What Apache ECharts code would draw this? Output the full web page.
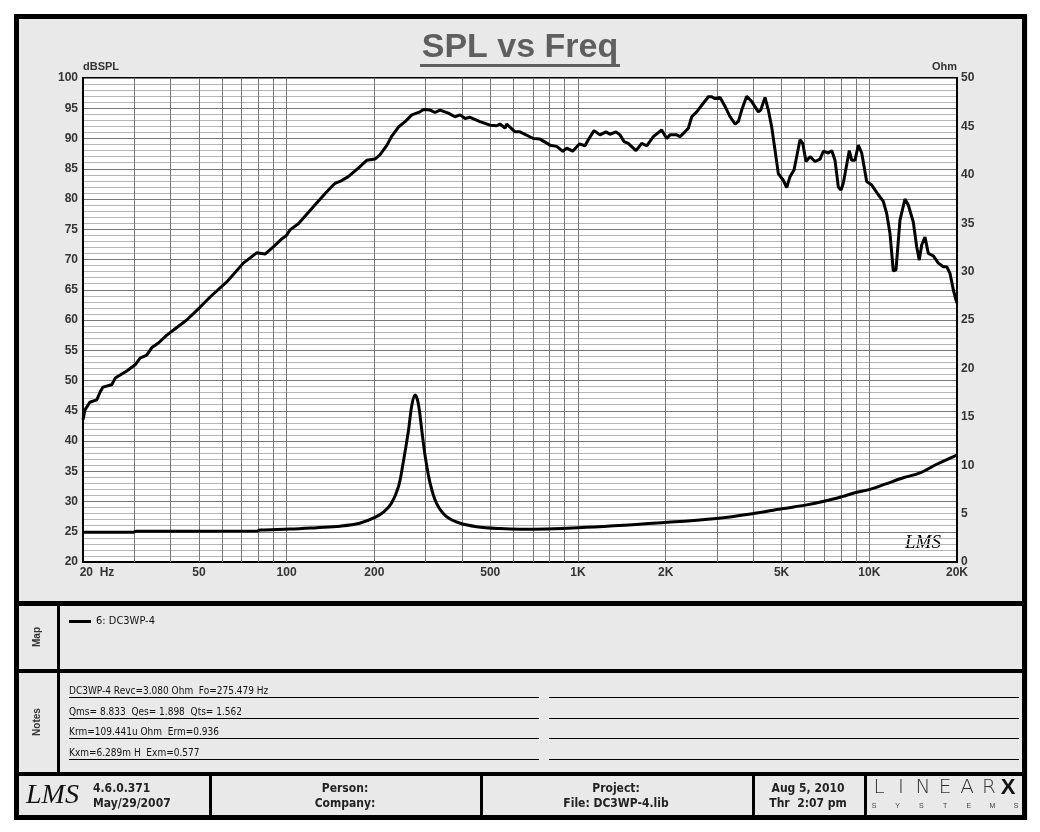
<!DOCTYPE html>
<html>
<head>
<meta charset="utf-8">
<title>SPL vs Freq</title>
<script src="https://cdn.jsdelivr.net/npm/echarts@6/dist/echarts.min.js"></script>
<style>
  html, body { margin: 0; padding: 0; background: #fff; }
  #main { width: 1040px; height: 832px; }
</style>
</head>
<body>
<div id="main"></div>
<script>
// SPL curve (Hz / dB)
var splFreq = [20, 20.3, 21.1, 22.3, 22.9, 23.4, 25.1, 25.8, 27.9, 28.5, 30.2, 31.4, 33.1, 34.4, 36.3, 38.8, 40.8,
  45.4, 50.4, 54.6, 62.3, 71, 78.9, 84.3, 90, 96.2, 100, 102.7, 109.7, 123.5, 137.3, 146.6, 152.5, 162.8,
  176.2, 188.3, 201, 209, 221, 229, 242, 255, 269, 287, 295, 311, 323, 336, 359, 378, 394, 410, 426, 461,
  499, 526, 540, 562, 569, 608, 632, 703, 741, 802, 845, 887, 915, 959, 1011, 1057, 1085, 1135, 1190,
  1248, 1288, 1351, 1394, 1439, 1488, 1582, 1655, 1722, 1814, 1938, 2017, 2070, 2182, 2240, 2330, 2392,
  2458, 2556, 2660, 2802, 2878, 2954, 3074, 3198, 3326, 3460, 3552, 3648, 3794, 3948, 4160, 4240, 4386,
  4502, 4624, 4746, 4872, 5068, 5206, 5344, 5516, 5784, 5908, 6064, 6260, 6512, 6776, 6952, 7232, 7430,
  7626, 7828, 7996, 8142, 8538, 8702, 8932, 9168, 9418, 9796, 10192, 10740, 11170, 11474, 11776, 12088,
  12348, 12744, 13258, 13608, 14158, 14544, 14846, 15130, 15532, 15944, 16586, 17254, 17948, 18438,
  18924, 19424, 19844, 20000];
var splDb = [43.5, 45.1, 46.4, 46.8, 48.1, 48.9, 49.3, 50.4, 51.4, 51.7, 52.6, 53.7, 54.2, 55.4, 56.2, 57.5, 58.3,
  60.0, 62.1, 63.8, 66.3, 69.4, 71.1, 70.9, 72.1, 73.4, 74.0, 74.9, 75.9, 78.7, 81.2, 82.6, 82.9, 83.7,
  85.1, 86.4, 86.6, 87.3, 88.9, 90.3, 91.9, 92.8, 93.9, 94.4, 94.8, 94.7, 94.3, 94.7, 94.2, 93.6, 93.9, 93.3, 93.5, 92.8,
  92.2, 92.1, 92.4, 91.7, 92.4, 91.1, 91.1, 90.0, 89.9, 88.9, 88.7, 87.9, 88.4, 87.9, 89.1, 88.8, 89.8, 91.3, 90.6,
  91.1, 90.7, 91.1, 90.6, 89.5, 89.2, 88.0, 89.2, 88.8, 90.3, 91.4, 90.0, 90.6, 90.6, 90.3, 91.1, 91.7,
  93.6, 94.4, 95.5, 96.9, 96.9, 96.6, 96.8, 95.3, 93.6, 92.4, 92.8, 94.7, 97.0, 96.1, 94.4, 94.7, 96.8,
  94.7, 91.9, 88.1, 84.2, 83.1, 81.9, 83.7, 84.8, 89.8, 89.2, 86.2, 87.0, 86.2, 86.6, 87.9, 87.6, 88.0,
  86.4, 82.0, 81.5, 82.6, 88.0, 86.4, 86.4, 88.9, 87.6, 82.9, 82.3, 80.7, 79.6, 77.6, 74.3, 68.1,
  68.3, 76.5, 80.0, 79.0, 76.2, 72.1, 69.9, 72.4, 73.7, 71.0, 70.6, 69.4, 68.8, 68.8,
  67.7, 65.0, 63.3, 62.8];

// impedance curve (Hz / Ohm)
var zFreq = [20, 29.5, 30.5, 79, 81, 102.7, 126.8, 152.5, 178, 201, 216, 229, 242, 251, 262, 269, 276, 283,
  291, 299, 311, 327, 354, 394, 449, 540, 632, 1003, 2017, 2994, 3996, 5004, 6098, 7048, 8042, 9054,
  10058, 11474, 13086, 14930, 17036, 20000];
var zOhm = [3.07, 3.07, 3.17, 3.2, 3.3, 3.4, 3.55, 3.7, 4.0, 4.6, 5.2, 6.06, 7.78, 10.2, 13.6, 16.2, 17.25, 16.4,
  13.6, 10.9, 8.1, 6.06, 4.68, 4.0, 3.65, 3.45, 3.38, 3.55, 4.1, 4.5, 5.0, 5.5, 5.9, 6.3, 6.75, 7.2,
  7.5, 8.1, 8.7, 9.2, 10.1, 11.05];

var gridFreqs = [30, 40, 50, 60, 70, 80, 90, 100, 200, 300, 400, 500, 600, 700, 800, 900,
  1000, 2000, 3000, 4000, 5000, 6000, 7000, 8000, 9000, 10000];
var freqTicks = [20, 50, 100, 200, 500, 1000, 2000, 5000, 10000, 20000];
var freqTickLabels = ['20  Hz', '50', '100', '200', '500', '1K', '2K', '5K', '10K', '20K'];

var driverName = '6: DC3WP-4';
var noteLines = [
  'DC3WP-4 Revc=3.080 Ohm  Fo=275.479 Hz',
  'Qms= 8.833  Qes= 1.898  Qts= 1.562',
  'Krm=109.441u Ohm  Erm=0.936',
  'Kxm=6.289m H  Exm=0.577'
];

var sans = "'Liberation Sans', Arial, sans-serif";
var narrow = "'Liberation Sans Narrow', 'DejaVu Sans Condensed', 'Liberation Sans', sans-serif";

function pairs(xs, ys) {
  return xs.map(function (x, i) { return [x, ys[i]]; });
}

// frame, panels and footer
var g = [];
function box(x, y, w, h, fill) {
  g.push({ type: 'rect', shape: { x: x, y: y, width: w, height: h }, style: { fill: fill }, silent: true });
}
function txt(x, y, s, o) {
  o = o || {};
  g.push({
    type: 'text', x: x, y: y, rotation: o.rot || 0, silent: true,
    style: {
      text: s, align: o.align || 'left', verticalAlign: o.va || 'middle',
      font: o.font || ('bold 12px ' + narrow), fill: o.color || '#222'
    }
  });
}
// white outside of the frame
box(0, 0, 1040, 14, '#fff');
box(0, 0, 14, 832, '#fff');
box(1028, 0, 12, 832, '#fff');
box(0, 820, 1040, 12, '#fff');
g.push({ type: 'rect', shape: { x: 16.5, y: 16.5, width: 1008, height: 801 }, style: { fill: null, stroke: '#000', lineWidth: 5 }, silent: true });
box(17, 601, 1008, 5, '#000');
box(17, 669, 1008, 4, '#000');
box(17, 772, 1008, 4, '#000');
box(57, 606, 3, 166, '#000');
[209, 480, 752, 864].forEach(function (x) { box(x, 776, 3, 40, '#000'); });

// title underline
box(420, 64, 200, 3, '#5f5f5f');

txt(37, 637, 'Map', { rot: Math.PI / 2, align: 'center', font: 'bold 10px ' + sans, color: '#333' });
txt(37, 722, 'Notes', { rot: Math.PI / 2, align: 'center', font: 'bold 10px ' + sans, color: '#333' });

var noteY = [697, 718, 738, 759];
noteLines.forEach(function (s, i) {
  txt(69, noteY[i] - 1, s, { va: 'bottom', font: '10px ' + narrow, color: '#111' });
});
noteY.forEach(function (y) {
  box(69, y, 470, 1, '#000');
  box(549, y, 470, 1, '#000');
});

// footer
txt(26, 796, 'LMS', { font: 'italic 28px ' + "'Liberation Serif', serif", color: '#111' });
txt(93, 789, '4.6.0.371', { font: 'bold 12px ' + narrow });
txt(93, 804, 'May/29/2007', { font: 'bold 12px ' + narrow });
txt(345, 789, 'Person:', { align: 'center', font: 'bold 12px ' + narrow });
txt(345, 804, 'Company:', { align: 'center', font: 'bold 12px ' + narrow });
txt(616, 789, 'Project:', { align: 'center', font: 'bold 12px ' + narrow });
txt(616, 804, 'File: DC3WP-4.lib', { align: 'center', font: 'bold 12px ' + narrow });
txt(808, 789, 'Aug 5, 2010', { align: 'center', font: 'bold 12px ' + narrow });
txt(808, 804, 'Thr  2:07 pm', { align: 'center', font: 'bold 12px ' + narrow });
'LINEAR'.split('').forEach(function (c, i) {
  txt(879 + i * 22, 788, c, { align: 'center', font: '300 20px ' + "'DejaVu Sans ExtraLight', 'DejaVu Sans', sans-serif", color: '#333' });
});
txt(1008, 788, 'X', { align: 'center', font: 'bold 22px ' + sans, color: '#111' });
'SYSTEMS'.split('').forEach(function (c, i) {
  txt(874 + i * 23.7, 806, c, { align: 'center', font: '7px ' + sans, color: '#444' });
});

// signature inside the plot
txt(905, 543, 'LMS', { font: 'italic 19px ' + "'Liberation Serif', serif", color: '#000' });

var chart = echarts.init(document.getElementById('main'));
chart.setOption({
  backgroundColor: '#e9e9e9',
  animation: false,
  title: {
    text: 'SPL vs Freq', left: 'center', top: 31, padding: 0,
    textStyle: { fontSize: 34, fontWeight: 'bold', fontFamily: sans, color: '#5f5f5f' }
  },
  legend: {
    data: [driverName], left: 69, top: 616, padding: 0,
    icon: 'rect', itemWidth: 22, itemHeight: 3, itemGap: 4,
    textStyle: { fontSize: 11, fontFamily: narrow, color: '#111' }
  },
  grid: {
    left: 83, right: 83, top: 78, bottom: 270,
    show: true, backgroundColor: '#fff', borderColor: '#000', borderWidth: 2
  },
  xAxis: {
    type: 'log', logBase: 10, min: 20, max: 20000,
    axisLine: { show: true, lineStyle: { color: '#000', width: 2 } },
    axisTick: { show: false }, axisLabel: { show: false }, splitLine: { show: false }
  },
  yAxis: [
    {
      type: 'value', min: 20, max: 100, interval: 5,
      name: 'dBSPL', nameLocation: 'end', nameGap: 6,
      nameTextStyle: { align: 'left', fontSize: 11, fontWeight: 'bold', fontFamily: sans, color: '#333' },
      axisLine: { show: true, lineStyle: { color: '#000', width: 2 } },
      axisTick: { show: false },
      axisLabel: { margin: 5, fontSize: 12, fontWeight: 'bold', fontFamily: sans, color: '#333' },
      splitLine: { show: true, lineStyle: { color: '#777', width: 1 } },
      minorTick: { show: false, splitNumber: 5 },
      minorSplitLine: { show: true, lineStyle: { color: '#b5b5b5', width: 1 } }
    },
    {
      type: 'value', min: 0, max: 50, interval: 5, position: 'right',
      name: 'Ohm', nameLocation: 'end', nameGap: 6,
      nameTextStyle: { align: 'right', fontSize: 11, fontWeight: 'bold', fontFamily: sans, color: '#333' },
      axisLine: { show: true, lineStyle: { color: '#000', width: 2 } },
      axisTick: { show: false },
      axisLabel: { margin: 4, fontSize: 12, fontWeight: 'bold', fontFamily: sans, color: '#333' },
      splitLine: { show: false }
    }
  ],
  series: [
    {
      name: 'freq grid', type: 'line', data: [], silent: true, clip: false,
      markLine: {
        silent: true, z: 1, symbol: ['none', 'none'], animation: false,
        label: { show: false },
        lineStyle: { color: '#777', width: 1, type: 'solid' },
        emphasis: { disabled: true },
        data: gridFreqs.map(function (f) { return [{ coord: [f, 20] }, { coord: [f, 100] }]; })
      },
      markPoint: {
        silent: true, symbol: 'rect', symbolSize: 1, animation: false,
        itemStyle: { color: 'rgba(0,0,0,0)' },
        label: {
          show: true, position: 'bottom', distance: 4, formatter: '{b}',
          fontSize: 12, fontWeight: 'bold', fontFamily: sans, color: '#333'
        },
        data: freqTicks.map(function (f, i) {
          var item = { name: freqTickLabels[i], coord: [f, 20] };
          if (i === 0) item.label = { offset: [14, 0] };
          return item;
        })
      }
    },
    {
      name: driverName, type: 'line', yAxisIndex: 0, z: 3,
      showSymbol: false, symbol: 'none',
      lineStyle: { color: '#000', width: 3 },
      itemStyle: { color: '#000' },
      data: pairs(splFreq, splDb)
    },
    {
      name: driverName, type: 'line', yAxisIndex: 1, z: 3,
      showSymbol: false, symbol: 'none', smooth: 0.35,
      lineStyle: { color: '#000', width: 3 },
      itemStyle: { color: '#000' },
      data: pairs(zFreq, zOhm)
    }
  ],
  graphic: g
});
</script>
</body>
</html>
